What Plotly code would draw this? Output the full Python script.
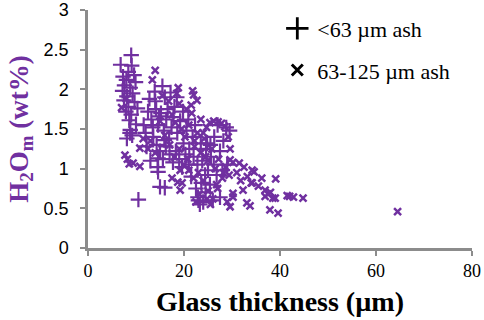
import plotly.graph_objects as go

purple = "#7030A0"

# <63 um ash (plus markers)
fine_x = [9.0, 6.8, 9.1, 8.4, 9.6, 7.3, 8.0, 9.9, 7.6, 8.8, 7.2, 9.3, 8.1, 7.5, 9.7, 8.4, 10.3, 7.9, 9.0, 8.6,
          10.0, 8.8, 9.2, 8.1, 8.75,
          12.5, 13.2, 14.0, 14.6, 15.2, 15.8, 16.3, 16.9, 17.4, 18.0, 18.6, 19.2, 19.9, 20.5, 21.1, 21.8,
          13.6, 14.3, 15.0, 15.6, 16.2, 17.0, 17.7, 18.3, 19.0, 19.6, 20.3, 12.0, 11.6, 12.8, 13.9, 16.0,
          17.2, 18.5, 15.5, 14.8, 16.6, 19.8, 20.9, 22.3, 13.0, 12.2, 14.5, 14.6, 15.0, 16.0, 10.5, 17.8,
          15.9, 14.2, 13.5, 14.6,
          22.9, 23.3, 23.0, 24.0, 22.5, 23.6, 24.4, 22.8, 23.8, 25.0, 25.6, 26.2, 26.8, 27.5, 28.2, 28.8,
          29.5, 27.0, 26.3, 25.5, 24.6, 23.5, 28.0, 29.0, 24.5, 25.4, 21.5, 22.0, 21.0, 24.8, 27.5, 26.0]
fine_y = [2.43, 2.31, 2.30, 2.22, 2.18, 2.16, 2.12, 2.09, 2.05, 2.02, 1.98, 1.95, 1.91, 1.86, 1.84, 1.78, 1.76,
          1.72, 1.68, 1.61, 1.56, 1.49, 1.42, 1.38, 1.45,
          1.72, 1.62, 1.85, 1.55, 1.70, 1.48, 1.62, 1.38, 1.52, 1.78, 1.45, 1.60, 1.32, 1.48, 1.25, 1.40,
          1.40, 1.30, 1.22, 1.12, 1.28, 1.18, 1.08, 1.22, 1.12, 1.02, 1.18, 1.45, 1.55, 1.88, 1.97, 1.90,
          1.96, 1.90, 2.04, 1.66, 1.75, 1.72, 1.62, 1.55, 1.10, 1.28, 1.02, 0.96, 0.77, 0.76, 0.61, 1.65,
          1.36, 1.75, 1.52, 1.13,
          0.64, 0.55, 0.60, 0.58, 0.75, 0.82, 0.92, 1.05, 1.10, 0.98, 1.15, 1.05, 0.92, 1.22, 1.35, 1.52,
          1.48, 1.55, 1.40, 1.30, 1.25, 1.32, 0.98, 1.05, 0.70, 0.80, 0.90, 1.15, 1.05, 1.32, 0.64, 0.60]

# 63-125 um ash (x markers)
coarse_x = [14.0, 13.4, 8.0, 7.0,
            15.5, 16.8, 17.5, 18.2, 19.0, 19.5, 20.2, 21.0, 21.6, 22.2, 22.8, 23.5, 24.2, 25.0, 25.8, 26.5,
            27.2, 28.0, 28.7, 29.4, 30.2, 31.0, 31.8, 32.5, 33.2, 34.0, 34.6, 35.5, 36.2,
            15.0, 16.0, 17.0, 18.0, 19.0, 20.0, 21.0, 22.0, 23.0, 24.0, 25.0, 26.0, 27.0,
            13.0, 14.0, 12.5, 11.5, 7.7, 9.4, 10.8, 8.2, 18.7, 19.2, 17.5, 19.6, 19.2, 10.8, 8.6,
            21.5, 22.0, 22.7, 21.8, 23.5, 24.0, 25.4, 26.2, 27.1, 27.8, 28.5, 29.2, 24.7,
            29.6, 29.6, 31.5, 34.2, 34.2, 32.3, 30.2, 29.6, 33.1, 33.75, 36.9, 36.9, 38.5, 37.9, 39.6,
            42.0, 42.8, 41.5, 44.8, 39.1, 37.5, 38.0, 39.0, 64.5, 30.2, 29.0, 20.5, 18.8, 18.5,
            22.5, 24.8, 25.5, 23.2, 26.8, 28.2, 24.5, 22.2, 20.8]
coarse_y = [2.24, 2.12, 1.88, 1.77,
            1.92, 1.85, 1.68, 1.58, 1.82, 1.50, 1.40, 1.55, 1.70, 1.35, 1.45, 1.20, 1.38, 1.10, 1.25, 1.00,
            1.12, 0.88, 1.02, 0.92, 1.08, 0.95, 0.85, 1.02, 0.90, 0.82, 0.96, 0.78, 0.88,
            1.60, 1.42, 1.30, 1.15, 1.25, 1.05, 0.98, 0.88, 0.95, 0.85, 0.72, 0.62, 0.75,
            1.35, 1.20, 1.25, 1.38, 1.17, 1.07, 1.03, 1.12, 0.83, 0.73, 0.88, 0.82, 0.98, 1.26, 1.06,
            1.80, 1.93, 1.86, 1.98, 1.62, 1.45, 1.58, 1.60, 1.59, 1.57, 1.53, 1.40, 1.52,
            1.25, 1.11, 1.07, 0.98, 0.82, 0.73, 0.64, 0.52, 0.57, 0.53, 0.73, 0.65, 0.63, 0.48, 0.44,
            0.65, 0.64, 0.66, 0.63, 0.87, 0.68, 0.70, 0.63, 0.46, 0.69, 0.58, 1.75, 2.02, 1.95,
            0.58, 0.62, 0.55, 0.68, 0.80, 0.95, 1.15, 1.28, 1.12]

legend_names = ["<63 µm ash", "63-125 µm ash"]
x_ticks = [0, 20, 40, 60, 80]
y_ticks = [0, 0.5, 1, 1.5, 2, 2.5, 3]

fig = go.Figure()
fig.add_trace(go.Scatter(x=fine_x, y=fine_y, mode="markers", showlegend=False, cliponaxis=False,
                         marker=dict(symbol="cross-thin", size=11, color=purple,
                                     line=dict(color=purple, width=2.2))))
fig.add_trace(go.Scatter(x=coarse_x, y=coarse_y, mode="markers", showlegend=False, cliponaxis=False,
                         marker=dict(symbol="x-thin", size=7, color=purple,
                                     line=dict(color=purple, width=2.5))))
# legend entries (black symbols)
fig.add_trace(go.Scatter(x=[None], y=[None], mode="markers", name=legend_names[0], legendgroup="a",
                         marker=dict(symbol="cross-thin", size=16, color="black",
                                     line=dict(color="black", width=2.8))))
fig.add_trace(go.Scatter(x=[None], y=[None], mode="markers", name=legend_names[1], legendgroup="b",
                         marker=dict(symbol="x-thin", size=11, color="black",
                                     line=dict(color="black", width=3))))

axis_color = "#8c8c8c"
fig.update_layout(
    width=484, height=320,
    margin=dict(l=88, r=12, t=10, b=72, autoexpand=False),
    paper_bgcolor="white", plot_bgcolor="white",
    legend=dict(x=0.493, y=1.01, xanchor="left", yanchor="top",
                font=dict(family="Liberation Serif", size=22, color="black"),
                tracegroupgap=10, bgcolor="rgba(0,0,0,0)"),
    xaxis=dict(range=[0, 80], tickvals=x_ticks, showgrid=False, zeroline=False, automargin=False,
               showline=True, linecolor=axis_color, linewidth=2.5,
               ticks="outside", ticklen=5, tickwidth=2, tickcolor=axis_color,
               tickfont=dict(family="Liberation Serif", size=18, color="black"),
               title=dict(text="<b>Glass thickness (µm)</b>",
                          font=dict(family="Liberation Serif", size=28, color="black"),
                          standoff=12)),
    yaxis=dict(range=[0, 3], tickvals=y_ticks, showgrid=False, zeroline=False, automargin=False,
               showline=True, linecolor=axis_color, linewidth=2.5,
               ticks="outside", ticklen=5, tickwidth=2, tickcolor=axis_color,
               ticklabelstandoff=8,
               tickfont=dict(family="Liberation Sans", size=18, color="black"),
               title=dict(text="<b>H<sub>2</sub>O<sub>m</sub> (wt%)</b>",
                          font=dict(family="Liberation Serif", size=27, color=purple),
                          standoff=8)),
)

fig.write_html("out.html", config={"displayModeBar": False},
               post_script="document.body.style.margin='0';")
